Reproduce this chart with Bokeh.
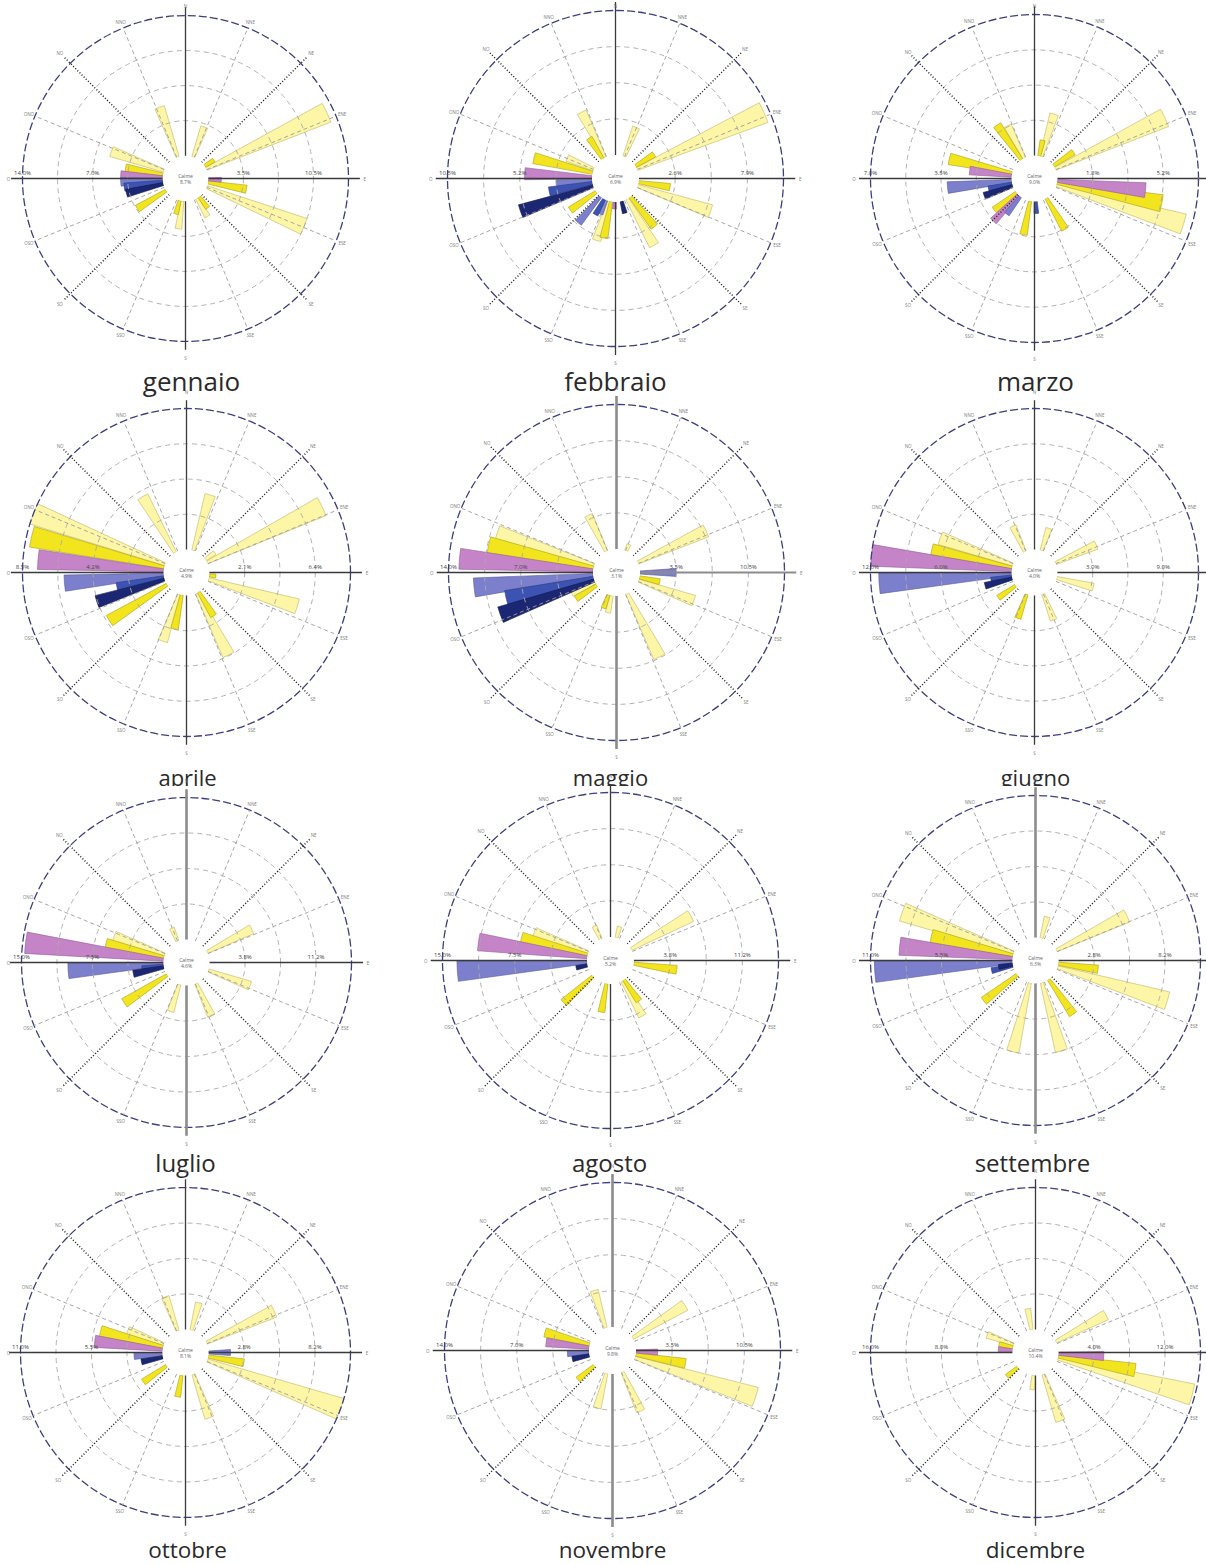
import math
from bokeh.plotting import figure
from bokeh.models import Range1d
from bokeh.embed import file_html
from bokeh.resources import INLINE
from bokeh.core.properties import value

# ---------------- data ----------------
months = ["gennaio", "febbraio", "marzo", "aprile", "maggio", "giugno",
          "luglio", "agosto", "settembre", "ottobre", "novembre", "dicembre"]

# outer ring value (%) of each rose and calm percentage
scale_max = [14.0, 10.5, 7.0, 8.5, 14.0, 12.0, 15.0, 15.0, 11.0, 11.0, 14.0, 16.0]
calm_pct = [8.7, 6.9, 9.0, 4.9, 3.1, 4.0, 4.6, 5.2, 6.3, 8.1, 9.8, 10.4]

# speed classes: 0 pale yellow ... 5 navy
class_fill = ["#fdf6a6", "#f2e51e", "#c684c8", "#7c80cc", "#3d53b3", "#1c2773"]
class_line = ["#bdb566", "#a99d18", "#8d5c93", "#56599c", "#2b3b82", "#111a45"]

# direction (compass degrees), frequency (%), speed class
dir_gennaio = [20, 57, 65, 92, 100, 112, 143, 150, 188, 195, 238, 256, 262, 267, 273, 280, 290, 340]
pct_gennaio = [3.2, 1.1, 13.3, 1.3, 3.9, 10.5, 1.4, 2.1, 2.8, 1.4, 3.4, 3.8, 3.9, 4.2, 4.2, 3.8, 5.6, 5.3]
cls_gennaio = [0, 1, 0, 2, 1, 0, 1, 0, 0, 1, 1, 5, 4, 3, 2, 1, 0, 0]

dir_febbraio = [22, 58, 66, 99, 109, 141, 150, 165, 182, 191, 197, 203, 209, 220, 235, 251, 259, 265, 273, 284, 293, 327, 333]
pct_febbraio = [2.3, 1.6, 10.1, 2.3, 5.6, 2.8, 3.9, 0.9, 0.5, 2.7, 3.0, 1.1, 1.3, 2.5, 2.3, 5.6, 3.2, 2.6, 4.9, 4.4, 2.1, 1.8, 3.7]
cls_febbraio = [0, 1, 0, 1, 0, 1, 0, 5, 2, 1, 0, 3, 4, 3, 1, 5, 4, 3, 2, 1, 0, 1, 0]

dir_marzo = [12, 17, 56, 65, 96, 101, 107, 149, 177, 191, 218, 224, 232, 251, 257, 264, 277, 283, 325, 333]
pct_marzo = [0.8, 2.2, 1.2, 6.0, 4.4, 5.3, 6.6, 1.8, 0.6, 1.7, 1.1, 1.8, 1.4, 1.5, 1.2, 3.2, 2.1, 3.2, 2.1, 1.8]
cls_marzo = [1, 0, 1, 0, 2, 1, 0, 1, 4, 1, 3, 2, 1, 5, 4, 3, 2, 1, 1, 0]

dir_aprile = [17, 55, 64, 97, 107, 148, 153, 192, 199, 238, 252, 258, 265, 275, 283, 291, 330]
pct_aprile = [3.5, 0.7, 7.7, 0.4, 5.6, 1.7, 4.2, 2.1, 3.0, 4.1, 4.3, 2.9, 6.0, 7.6, 8.2, 8.5, 3.9]
cls_aprile = [0, 0, 0, 1, 0, 1, 0, 1, 0, 1, 5, 4, 3, 2, 1, 0, 0]

dir_maggio = [24, 65, 90, 102, 110, 153, 192, 200, 237, 245, 250, 257, 264, 275, 282, 288, 334]
pct_maggio = [0.7, 7.3, 3.5, 2.0, 5.7, 6.9, 1.7, 1.4, 2.4, 2.5, 9.7, 8.7, 11.6, 13.0, 10.4, 9.9, 3.9]
cls_maggio = [0, 0, 3, 1, 0, 0, 0, 1, 1, 0, 5, 4, 3, 2, 1, 0, 0]

dir_giugno = [18, 66, 104, 158, 200, 235, 255, 260, 266, 276, 282, 290, 335]
pct_giugno = [2.0, 3.8, 3.2, 2.4, 2.2, 1.8, 2.4, 1.8, 11.3, 12.0, 7.0, 6.6, 2.4]
cls_giugno = [0, 0, 0, 0, 1, 1, 5, 4, 3, 2, 1, 0, 0]

dir_luglio = [63, 110, 155, 198, 237, 258, 262, 266, 277, 283, 290, 337]
pct_luglio = [5.3, 4.7, 3.8, 3.0, 5.4, 3.3, 2.3, 10.1, 14.7, 6.3, 5.7, 1.5]
cls_luglio = [0, 0, 0, 0, 1, 5, 4, 3, 2, 1, 0, 0]

dir_agosto = [15, 61, 98, 145, 150, 190, 228, 258, 266, 278, 284, 290, 335]
pct_agosto = [1.2, 7.1, 4.5, 2.7, 4.2, 3.0, 4.1, 1.2, 13.5, 11.4, 7.1, 6.0, 1.5]
cls_agosto = [0, 0, 1, 1, 0, 1, 1, 5, 3, 2, 1, 0, 0]

dir_settembre = [15, 64, 98, 107, 145, 164, 194, 232, 257, 260, 266, 276, 283, 290]
pct_settembre = [1.7, 6.1, 3.1, 8.9, 3.3, 5.5, 5.5, 3.3, 1.7, 1.1, 10.7, 8.8, 6.5, 9.2]
cls_settembre = [0, 0, 1, 0, 1, 0, 0, 1, 4, 5, 3, 2, 1, 0]

dir_ottobre = [15, 65, 90, 100, 110, 160, 190, 235, 258, 266, 277, 284, 291, 340]
pct_ottobre = [2.2, 5.8, 1.7, 2.8, 11.0, 3.6, 1.7, 2.2, 1.7, 2.2, 5.3, 5.0, 3.0, 2.8]
cls_ottobre = [0, 0, 3, 1, 0, 0, 1, 1, 5, 3, 2, 1, 0, 0]

dir_novembre = [58, 92, 100, 108, 155, 195, 230, 258, 266, 277, 285, 343]
pct_novembre = [6.0, 2.1, 4.9, 12.3, 4.2, 3.5, 2.1, 1.7, 2.1, 4.2, 4.5, 3.8]
cls_novembre = [0, 2, 1, 0, 0, 0, 1, 5, 3, 2, 1, 0]

dir_dicembre = [62, 93, 100, 105, 160, 185, 230, 275, 283, 290, 350]
pct_dicembre = [6.4, 5.1, 8.8, 15.7, 5.6, 1.6, 1.6, 1.6, 1.6, 3.2, 2.4]
cls_dicembre = [0, 2, 1, 0, 0, 0, 1, 2, 1, 0, 0]

month_dirs = [dir_gennaio, dir_febbraio, dir_marzo, dir_aprile, dir_maggio, dir_giugno,
              dir_luglio, dir_agosto, dir_settembre, dir_ottobre, dir_novembre, dir_dicembre]
month_pcts = [pct_gennaio, pct_febbraio, pct_marzo, pct_aprile, pct_maggio, pct_giugno,
              pct_luglio, pct_agosto, pct_settembre, pct_ottobre, pct_novembre, pct_dicembre]
month_clss = [cls_gennaio, cls_febbraio, cls_marzo, cls_aprile, cls_maggio, cls_giugno,
              cls_luglio, cls_agosto, cls_settembre, cls_ottobre, cls_novembre, cls_dicembre]

dir16 = ["N", "NNE", "NE", "ENE", "E", "ESE", "SE", "SSE",
         "S", "SSO", "SO", "OSO", "O", "ONO", "NO", "NNO"]

# ---------------- layout (page pixels) ----------------
W, H = 1206, 1564
centers = [(185, 178), (615, 178), (1034, 178),
           (186, 572), (616, 572), (1034, 572),
           (186, 962), (610, 960), (1035, 960),
           (185, 1352), (612, 1350), (1035, 1352)]
radii = [163, 168, 164, 164, 168, 164, 165, 168, 165, 165, 168, 165]
title_x = [191, 615, 1035, 187, 610, 1035, 185, 609, 1032, 187, 612, 1035]
row_title_y = [380, 776, 1162, 1549]
row_title_size = ["26px", "22px", "24px", "22.5px"]
# vertical axis drawn as a thick grey bar in some roses
thick_ns = [False, False, False, False, True, False, True, False, True, False, True, False]
grey_ew = [False, False, False, False, True, False, False, False, False, False, False, False]


def px(X):
    return X


def py(Y):
    return H - Y


p = figure(width=W, height=H, output_backend="svg", toolbar_location=None,
           x_range=Range1d(0, W), y_range=Range1d(0, H),
           min_border=0, outline_line_color=None, background_fill_color="white")
p.axis.visible = False
p.grid.visible = False

FONT = value("Open Sans")

# titles first, then a white band hiding the bottom of the 2nd-row titles
for row in range(4):
    idx = range(row * 3, row * 3 + 3)
    p.text(x=[px(title_x[k]) for k in idx], y=[py(row_title_y[row])] * 3,
           text=[months[k] for k in idx],
           text_font=FONT, text_font_size=row_title_size[row], text_color="#2a2a2a",
           text_align="center", text_baseline="middle")
p.quad(left=[0], right=[W], top=[py(785.5)], bottom=[py(792)],
       fill_color="white", line_color=None)

for i, m in enumerate(months):
    X, Y = centers[i]
    cx, cy = px(X), py(Y)
    R = radii[i]
    r0 = 0.14 * R
    fmax = scale_max[i]
    span = R - r0

    # bars (lower classes first so stronger classes sit on top)
    order = sorted(range(len(month_dirs[i])), key=lambda k: month_clss[i][k])
    half = math.radians(3.8)
    xs, ys, outer, st, en, fc, lc = [], [], [], [], [], [], []
    for k in order:
        a = math.radians(90 - month_dirs[i][k])
        xs.append(cx); ys.append(cy)
        outer.append(r0 + span * month_pcts[i][k] / fmax)
        st.append(a - half); en.append(a + half)
        fc.append(class_fill[month_clss[i][k]])
        lc.append(class_line[month_clss[i][k]])
    p.annular_wedge(x=xs, y=ys, inner_radius=r0, outer_radius=outer,
                    start_angle=st, end_angle=en, fill_color=fc,
                    line_color=lc, line_width=0.6)

    # rings
    ring_r = [r0 + span * k / 4 for k in (1, 2, 3)]
    p.circle(x=[cx] * 3, y=[cy] * 3, radius=ring_r, fill_color=None,
             line_color="#a9a9a9", line_width=0.9, line_dash="5 4")
    p.circle(x=[cx], y=[cy], radius=[R], fill_color=None,
             line_color="#3d3f7e", line_width=1.3, line_dash="8 3")

    # light dashed spokes (16-point secondary directions)
    sx0, sy0, sx1, sy1 = [], [], [], []
    for d in range(16):
        if d % 2 == 1:
            a = math.radians(90 - d * 22.5)
            sx0.append(cx + r0 * math.cos(a)); sy0.append(cy + r0 * math.sin(a))
            sx1.append(cx + R * math.cos(a)); sy1.append(cy + R * math.sin(a))
    p.segment(x0=sx0, y0=sy0, x1=sx1, y1=sy1, line_color="#9c9c9c",
              line_width=0.9, line_dash="4 3")

    # dotted diagonals
    dx0, dy0, dx1, dy1 = [], [], [], []
    for d in (2, 6, 10, 14):
        a = math.radians(90 - d * 22.5)
        dx0.append(cx + r0 * math.cos(a)); dy0.append(cy + r0 * math.sin(a))
        dx1.append(cx + 1.06 * R * math.cos(a)); dy1.append(cy + 1.06 * R * math.sin(a))
    p.segment(x0=dx0, y0=dy0, x1=dx1, y1=dy1, line_color="#1f1f1f",
              line_width=1.5, line_dash="1 2")

    # main axes
    L = 1.07 * R
    LV = 1.05 * R
    if grey_ew[i]:
        p.segment(x0=[cx - L, cx], y0=[cy, cy], x1=[cx, cx + L], y1=[cy, cy],
                  line_color=["#3a3a3a", "#8c8c8c"], line_width=[1.3, 2.2])
    else:
        p.segment(x0=[cx - L], y0=[cy], x1=[cx + L], y1=[cy],
                  line_color="#3a3a3a", line_width=1.3)
    if thick_ns[i]:
        p.segment(x0=[cx], y0=[cy - LV], x1=[cx], y1=[cy + LV],
                  line_color="#8c8c8c", line_width=2.6)
    else:
        p.segment(x0=[cx], y0=[cy - LV], x1=[cx], y1=[cy + LV],
                  line_color="#3a3a3a", line_width=1.3)

    # calm circle
    p.circle(x=[cx], y=[cy], radius=[r0], fill_color="white", line_color=None)
    p.text(x=[cx, cx], y=[cy + 3, cy - 3], text=["Calme", f"{calm_pct[i]:.1f}%"],
           text_font=FONT, text_font_size="5px", text_color="#666666",
           text_align="center", text_baseline="middle")

    # direction labels (kept inside the page)
    lx, ly, lt = [], [], []
    for d in range(16):
        a = math.radians(90 - d * 22.5)
        f = 1.1 if d % 4 == 0 else (1.09 if d % 2 == 0 else 1.04)
        x = cx + f * R * math.cos(a)
        y = cy + f * R * math.sin(a)
        lx.append(min(max(x, 8), W - 8))
        ly.append(min(max(y, 5), H - 5))
        lt.append(dir16[d])
    p.text(x=lx, y=ly, text=lt, text_font=FONT, text_font_size="4.5px",
           text_color="#808080", text_align="center", text_baseline="middle")

    # scale labels along the E-W axis
    vals = [fmax * k / 4 for k in (1, 2, 3, 4)]
    rr = [r0 + span * k / 4 for k in (1, 2, 3, 4)]
    slx = [cx + rr[0], cx - rr[1], cx + rr[2], cx - rr[3]]
    p.text(x=slx, y=[cy + 2] * 4, text=[f"{v:.1f}%" for v in vals],
           text_font=FONT, text_font_size="6px", text_color="#444444",
           text_align="center", text_baseline="bottom")

open("out.html", "w").write(file_html(p, INLINE))
